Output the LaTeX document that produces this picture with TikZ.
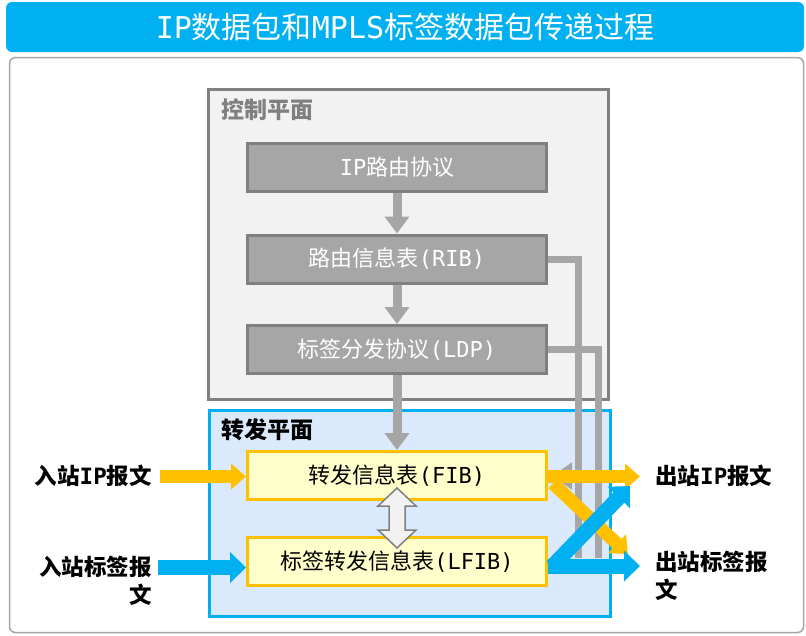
\documentclass[tikz,border=0pt]{standalone}
\usepackage{fontspec}
\setmainfont{Noto Sans CJK SC}
\newfontfamily\monof{DejaVu Sans Mono}
\newcommand\lat[1]{{\monof #1}}
\usetikzlibrary{arrows.meta,calc}
\definecolor{tblue}{HTML}{00B0F0}
\definecolor{panelgray}{HTML}{A6A6A6}
\definecolor{cpfill}{HTML}{F2F2F2}
\definecolor{dgray}{HTML}{808080}
\definecolor{mgray}{HTML}{A6A6A6}
\definecolor{fpfill}{HTML}{DAEAFC}
\definecolor{ybox}{HTML}{FFFFCC}
\definecolor{orng}{HTML}{FFC000}
\begin{document}
\begin{tikzpicture}[x=1pt,y=-1pt,
  graybox/.style={draw=dgray,fill=mgray,line width=3pt,minimum width=299pt,minimum height=48pt,inner sep=0pt,text=white,font=\fontsize{22pt}{26pt}\selectfont},
  yellowbox/.style={draw=orng,fill=ybox,line width=3pt,minimum width=299pt,minimum height=48pt,inner sep=0pt,text=black,font=\fontsize{22pt}{26pt}\selectfont},
  planelabel/.style={anchor=west,inner sep=0pt,font=\fontsize{23pt}{27pt}\selectfont\bfseries},
  sidelabel/.style={inner sep=0pt,font=\fontsize{22.5pt}{28pt}\selectfont\bfseries},
  gdown/.style={draw=mgray,line width=9pt,-{Triangle[width=24pt,length=17pt]}},
  gline/.style={draw=mgray,line width=7pt},
  oarrow/.style={draw=orng,line width=13pt,-{Triangle[width=25pt,length=15pt]}},
  barrow/.style={draw=tblue,line width=15pt,-{Triangle[width=30pt,length=16pt]}},
  dblarrow/.style={draw=dgray,fill=cpfill,line width=1.5pt,line join=miter},
]
\useasboundingbox (0,0) rectangle (806,635);
% title bar and panel
\node[fill=tblue,rounded corners=6pt,minimum width=798pt,minimum height=50pt,inner sep=0pt,
      text=white,font=\fontsize{30pt}{32pt}\selectfont] (title) at (405,27) {\lat{IP}数据包和\lat{MPLS}标签数据包传递过程};
\draw[draw=panelgray,fill=white,line width=1.5pt,rounded corners=6pt] (9.5,57.5) rectangle (803.5,632.5);
% planes
\draw[draw=dgray,fill=cpfill,line width=3pt] (208.5,89.5) rectangle (608.5,399.5);
\draw[draw=tblue,fill=fpfill,line width=3pt] (209.5,410) rectangle (610.5,616.5);
\node[planelabel,text=dgray] (cpl) at (221,110) {控制平面};
\node[planelabel,text=black] (fpl) at (221,430) {转发平面};
% boxes
\node[graybox] (ip) at (397,167.5) {\lat{IP}路由协议};
\node[graybox] (rib) at (397,259) {路由信息表\lat{(RIB)}};
\node[graybox] (ldp) at (397,349.5) {标签分发协议\lat{(LDP)}};
\node[yellowbox] (fib) at (397,475.5) {转发信息表\lat{(FIB)}};
\node[yellowbox] (lfib) at (397,561.5) {标签转发信息表\lat{(LFIB)}};
% gray vertical arrows
\draw[gdown] (ip.south) -- (rib.north);
\draw[gdown] (rib.south) -- (ldp.north);
\draw[gdown] (ldp.south) -- (fib.north);
% gray lines to the right
\draw[gline] (rib.east) -- ++(30,0) -- ++(0,299);
\draw[gline] (ldp.east) -- ++(50,0) -- ++(0,208.5);
\draw[draw=mgray,line width=7pt,-{Triangle[width=26pt,length=20pt]}] ($(fib.east)+(30,0.5)$) -- ($(fib.east)+(4,0.5)$);
% double arrow
\draw[dblarrow] ($(fib.south)+(0,-13)$) -- ++(19,18) -- ++(-11,0) -- ++(0,24) -- ++(11,0)
  -- ($(lfib.north)+(0,12)$) -- ++(-19,-18) -- ++(11,0) -- ++(0,-24) -- ++(-11,0) -- cycle;
% side labels
\node[sidelabel,anchor=east] (inip) at (152,476) {入站\lat{IP}报文};
\node[sidelabel,anchor=east,align=right] (inlbl) at (152,581) {入站标签报\\文};
\node[sidelabel,anchor=west] (outip) at (655,476) {出站\lat{IP}报文};
\node[sidelabel,anchor=west,align=left] (outlbl) at (655,576) {出站标签报\\文};
% incoming arrows
\draw[oarrow] ($(fib.west -| inip.east)+(8,1)$) -- ($(fib.west)+(0,1)$);
\draw[barrow] ($(lfib.west -| inlbl.east)+(6,6)$) -- ($(lfib.west)+(0,6)$);
% outgoing arrows
\coordinate (oend) at (628,554);
\coordinate (bend) at (630,486);
\draw[oarrow] ($(fib.east)+(0,1)$) -- ($(fib.east -| outip.west)+(-15,1)$);
\draw[oarrow] ($(fib.east)+(5,8)$) -- (oend);
\draw[barrow] ($(lfib.east)+(4,5)$) -- (bend);
\draw[barrow] ($(lfib.east)+(0,4.5)$) -- ($(lfib.east -| outlbl.west)+(-15,4.5)$);
\end{tikzpicture}
\end{document}
